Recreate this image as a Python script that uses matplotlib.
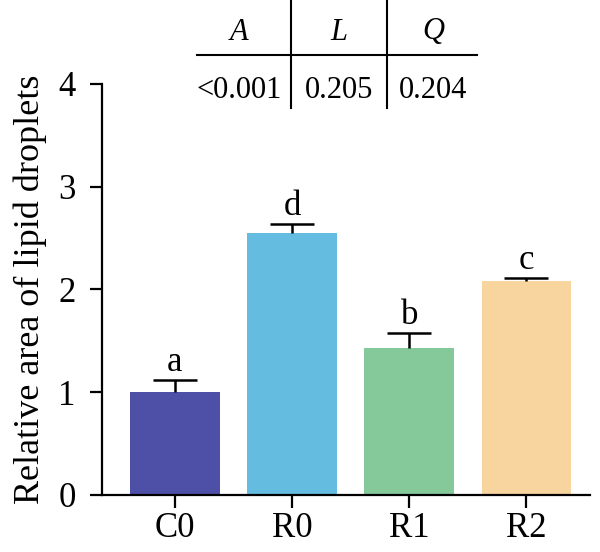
import numpy as np
import matplotlib.pyplot as plt
from matplotlib.lines import Line2D

plt.rcParams["font.family"] = ["Liberation Serif", "DejaVu Serif"]

groups = ["C0", "R0", "R1", "R2"]
means = [1.00, 2.55, 1.43, 2.08]
errs = [0.12, 0.09, 0.15, 0.03]
letters = ["a", "d", "b", "c"]
colors = ["#4E50A8", "#64BDE0", "#85C99B", "#F8D49E"]

tbl_heads = ["A", "L", "Q"]
tbl_vals = ["<0.001", "0.205", "0.204"]

fig = plt.figure(figsize=(6, 5.52), dpi=100)
ax = fig.add_axes([0.17, 0.1033, 0.813, 0.7447])

x = np.arange(len(groups))
ax.bar(x, means, width=0.765, color=colors, zorder=2)
eb = ax.errorbar(x, means, yerr=[np.zeros(len(errs)), errs], fmt="none",
                 ecolor="black", elinewidth=1.8, capsize=16, capthick=1.8, zorder=3)
eb[1][0].set_visible(False)  # hide the lower cap
for xi, m, e, l in zip(x, means, errs, letters):
    ax.text(xi, m + e + 0.01, l, ha="center", va="bottom", fontsize=25)

ax.set_xlim(-0.62, 3.54)
ax.set_ylim(0, 4)
ax.set_yticks([0, 1, 2, 3, 4])
ax.set_xticks(x)
ax.set_xticklabels(groups)
ax.tick_params(axis="both", labelsize=25, width=1.6, length=9, direction="out")
ax.tick_params(axis="y", pad=10)
ax.set_ylabel("Relative area of lipid droplets", fontsize=26, labelpad=8)
for s in ["top", "right"]:
    ax.spines[s].set_visible(False)
for s in ["left", "bottom"]:
    ax.spines[s].set_linewidth(1.6)

# P-value table above the plot
col_x = [239 / 600, 339 / 600, 433 / 600]
for cx, h, v in zip(col_x, tbl_heads, tbl_vals):
    fig.text(cx, 1 - 32 / 552, h, ha="center", va="center", fontsize=22, style="italic")
    fig.text(cx, 1 - 90 / 552, v, ha="center", va="center", fontsize=22)
fig.add_artist(Line2D([197 / 600, 477 / 600], [1 - 55 / 552] * 2, color="black", lw=1.5))
for vx in [291 / 600, 387 / 600]:
    fig.add_artist(Line2D([vx, vx], [1, 1 - 108 / 552], color="black", lw=1.5))

plt.savefig("out.png", dpi=100)
plt.close()
